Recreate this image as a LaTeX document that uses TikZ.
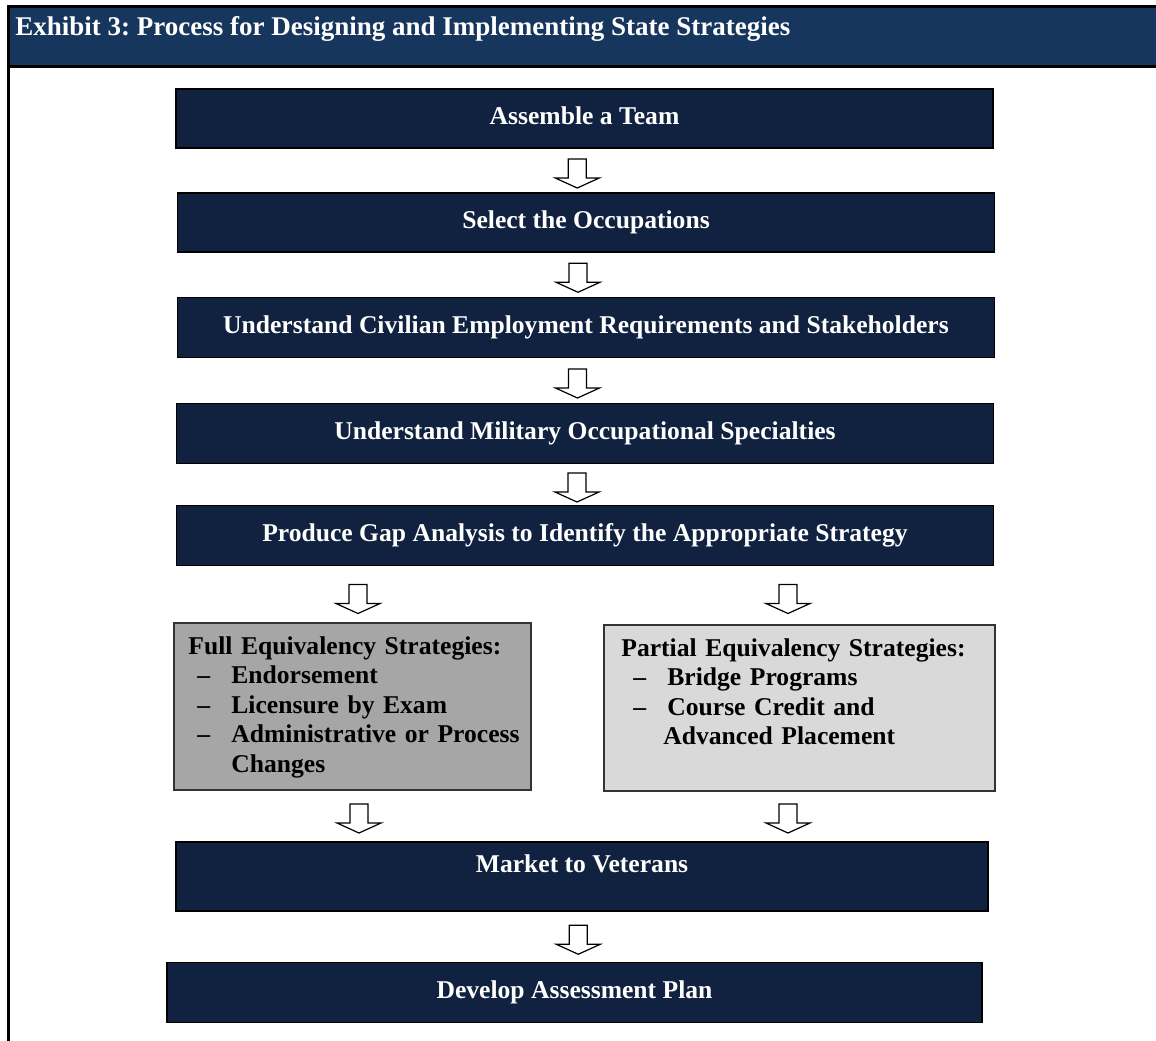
\documentclass[tikz,border=0pt]{standalone}
\usepackage{fontspec}
\setmainfont{Liberation Serif}
\usetikzlibrary{calc}
\frenchspacing

\definecolor{headblue}{HTML}{17365D}
\definecolor{stepblue}{HTML}{10223F}
\definecolor{fullgray}{HTML}{A6A6A6}
\definecolor{partgray}{HTML}{D9D9D9}

\newcommand{\boxfont}{\fontsize{12.8}{14.75}\selectfont\bfseries}
\newcommand{\itm}[1]{\hspace*{4.5pt}\makebox[17pt][l]{--}#1}

\tikzset{
  stepbox/.style={draw=black, line width=.7pt, fill=stepblue, text=white, font=\boxfont,
    minimum width=408.5pt, minimum height=30pt, inner sep=0pt, text height=9pt, text depth=3.5pt},
  stratbox/.style={draw=black!80, line width=1pt, inner sep=0pt, anchor=north west},
  strattext/.style={anchor=north west, align=left, text width=185pt, inner xsep=7.5pt,
    inner ysep=7pt, font=\boxfont},
  downarr/.pic={
    \draw[line width=.6pt, fill=white] (-9,-14.5) -- (9,-14.5) -- (9,4.5) -- (22,4.5)
      -- (0,14.5) -- (-22,4.5) -- (-9,4.5) -- cycle;
  }
}

\begin{document}
\begin{tikzpicture}[x=.5pt,y=-.5pt]
    \useasboundingbox (0,0) rectangle (1156,1040);

    % frame and header bar
    \fill[headblue] (8,6) rectangle (1160,66);
    \draw[line width=1.5pt] (8,1045) -- (8,6) -- (1160,6);
    \draw[line width=1.5pt] (8,66) -- (1160,66);
    \node[anchor=base west, text=white, inner sep=0pt, font=\fontsize{13.5}{16}\selectfont\bfseries] (title) at (15,35)
        {Exhibit 3: Process for Designing and Implementing State Strategies};

    % main steps
    \node[stepbox, minimum height=29.5pt] (team) at (584.5,118.5) {Assemble a Team};
    \node[stepbox, minimum height=29.5pt] (occ) at (586,222.5) {Select the Occupations};
    \node[stepbox] (civ) at (586,327.5) {Understand Civilian Employment Requirements and Stakeholders};
    \node[stepbox] (mil) at (585,433.5) {Understand Military Occupational Specialties};
    \node[stepbox] (gap) at (585,535.5) {Produce Gap Analysis to Identify the Appropriate Strategy};

    % strategy boxes
    \node[stratbox, fill=fullgray, minimum width=178.5pt, minimum height=83.5pt] (full) at (173,622) {};
    \node[strattext] (fulltxt) at (full.north west) {Full Equivalency Strategies:\\
        \itm{Endorsement}\\
        \itm{Licensure by Exam}\\
        \itm{Administrative or Process}\\
        \hspace*{21.5pt}Changes};
    \node[stratbox, fill=partgray, minimum width=195.5pt, minimum height=83pt] (part) at (603,624) {};
    \node[strattext, inner xsep=9pt] (parttxt) at (part.north west) {Partial Equivalency Strategies:\\
        \hspace*{1.5pt}\itm{Bridge Programs}\\
        \hspace*{1.5pt}\itm{Course Credit and}\\
        \hspace*{21pt}Advanced Placement};

    \node[stepbox, minimum width=406pt, text height=15pt, text depth=19.5pt] (market) at (582,876.5) {Market to Veterans};
    \node[stepbox, minimum width=407.5pt] (plan) at (574.5,992.5) {Develop Assessment Plan};

    % block arrows
    \foreach \a/\b/\dx in {team/occ/-4, occ/civ/-4, civ/mil/-4, mil/gap/-4, market/plan/0} {
        \pic at ([xshift=\dx pt, yshift=-1.5pt]$(\a.south)!.5!(\b.north)$) {downarr};
    }
    \pic at ($(full.north)+(5.5,-23)$) {downarr};
    \pic at ($(part.north)+(-11.5,-25)$) {downarr};
    \pic at ($(full.south)+(6.5,27.5)$) {downarr};
    \pic at ($(part.south)+(-11.5,26.5)$) {downarr};

\end{tikzpicture}
\end{document}
